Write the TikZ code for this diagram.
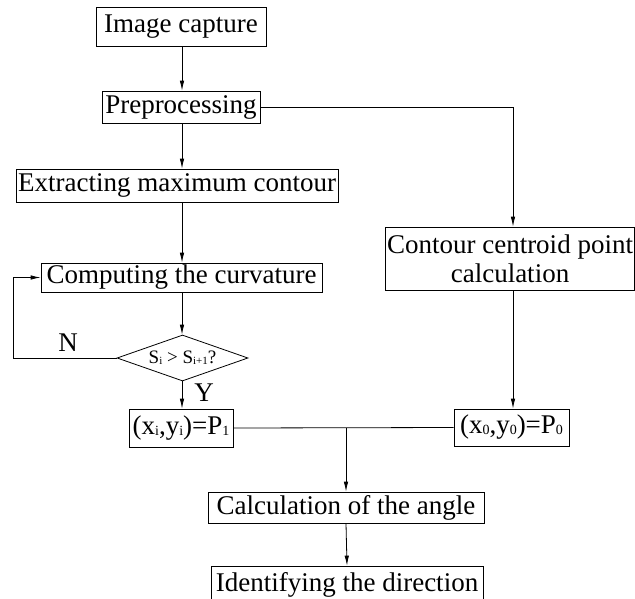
\documentclass[tikz,border=0pt]{standalone}
\usepackage{fontspec}
\setmainfont{Liberation Serif}
\usetikzlibrary{arrows.meta,shapes.geometric}
\newcommand\mysb[2]{\raisebox{-1pt}{\fontsize{#1}{#1}\selectfont #2}}
\begin{document}
\begin{tikzpicture}[x=1pt,y=-1pt,
  box/.style={draw,line width=0.8pt,inner sep=0pt,align=center,font=\fontsize{27}{29}\selectfont},
  arr/.style={line width=0.8pt,-{Latex[length=10pt,width=4.5pt]}},
  ln/.style={line width=0.8pt},
  lbl/.style={font=\fontsize{27}{29}\selectfont,inner sep=0pt}]
\useasboundingbox (0,0) rectangle (635,598);
\coordinate (ax) at (182,0);
\coordinate (lp) at (13,0);
\node[box,minimum width=170,minimum height=39] (cap) at (181,26.5) {Image capture};
\node[box,minimum width=158,minimum height=32] (pre) at (181,107) {Preprocessing};
\node[box,minimum width=322,minimum height=33] (ext) at (177,185.5) {Extracting maximum contour};
\node[box,minimum width=281,minimum height=29] (cur) at (181.5,277.5) {Computing the curvature};
\node[draw,line width=0.8pt,shape=diamond,aspect=2.85,inner sep=0pt,minimum width=131,minimum height=46,font=\fontsize{19}{21}\selectfont] (dia) at (182.5,358) {S\mysb{11}{i} > S\mysb{11}{i+1}?};
\node[box,minimum width=104,minimum height=38] (p1) at (181,428) {(x\mysb{14}{i},y\mysb{14}{i})=P\mysb{14}{1}};
\node[box,minimum width=249,minimum height=63] (cen) at (510,258.5) {Contour centroid point\\calculation};
\node[box,minimum width=115,minimum height=37] (p0) at (511.5,427.5) {(x\mysb{14}{0},y\mysb{14}{0})=P\mysb{14}{0}};
\node[box,minimum width=276,minimum height=31] (ang) at (346,507.5) {Calculation of the angle};
\node[box,minimum width=272,minimum height=38] (dir) at (347,585) {Identifying the direction};
\node[lbl] (n) at (68,343) {N};
\node[lbl] (y) at (204,393) {Y};
\coordinate (rx) at (513,0);
\draw[arr] (cap.south -| ax) -- (pre.north -| ax);
\draw[arr] (pre.south -| ax) -- (ext.north -| ax);
\draw[arr] (ext.south -| ax) -- (cur.north -| ax);
\draw[arr] (cur.south -| ax) -- (dia.north -| ax);
\draw[arr] (dia.south -| ax) -- (p1.north -| ax);
\draw[arr] (dia.west) -- (dia.west -| lp) |- (cur.west);
\draw[arr] (pre.east) -| (cen.north -| rx);
\draw[arr] (cen.south -| rx) -- (p0.north -| rx);
\draw[ln] (p1.east) -- (p0.west);
\draw[arr] (ang.north |- p1.east) -- (ang.north);
\draw[arr] (ang.south) -- (dir.north);
\end{tikzpicture}
\end{document}
